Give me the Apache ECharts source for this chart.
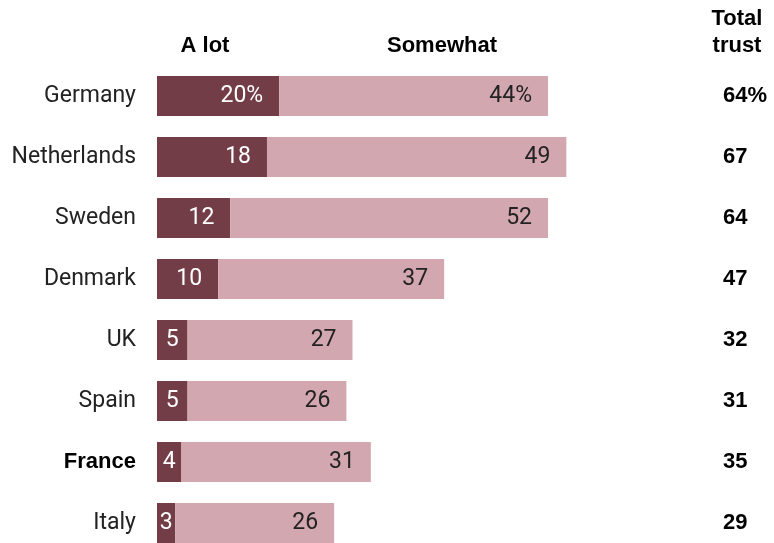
<!DOCTYPE html>
<html>
<head>
<meta charset="utf-8">
<script src="https://cdn.jsdelivr.net/npm/echarts@6/dist/echarts.min.js"></script>
<style>
  html, body { margin: 0; padding: 0; background: #ffffff; }
  #chart { width: 774px; height: 543px; }
</style>
</head>
<body>
<div id="chart"></div>
<script>
// Trust in news media, by country (% who trust "a lot" / "somewhat")
const categories = ['Germany', 'Netherlands', 'Sweden', 'Denmark', 'UK', 'Spain', 'France', 'Italy'];
const aLot = [20, 18, 12, 10, 5, 5, 4, 3];
const somewhat = [44, 49, 52, 37, 27, 26, 31, 26];
const totalTrust = [64, 67, 64, 47, 32, 31, 35, 29];
const highlighted = 'France';

const DARK = '#733d48';
const LIGHT = '#d3a7af';
const TEXT = '#222222';
const BODY_FONT = 'Roboto, "Liberation Sans", sans-serif';
const HEAD_FONT = '"Liberation Sans", Arial, sans-serif';

// grid geometry: rows sit on the ticks, first row at the top edge, last at the bottom edge
const GRID_LEFT = 157;
const GRID_WIDTH = 556;
const X_MAX = 91;
const PX_PER_UNIT = GRID_WIDTH / X_MAX;

const pct = (v, i) => (i === 0 ? v + '%' : String(v));

// narrow segments get a centred label, wider ones sit near the right end
function segmentData(values) {
  return values.map(function (v) {
    const narrow = v * PX_PER_UNIT < 40;
    return {
      value: v,
      label: narrow ? { position: 'inside' } : { position: 'insideRight', distance: 16 }
    };
  });
}

const chart = echarts.init(document.getElementById('chart'), null, { renderer: 'canvas' });

const rowAxis = {
  type: 'category',
  inverse: true,
  boundaryGap: false,
  data: categories,
  axisLine: { show: false },
  axisTick: { show: false },
  splitLine: { show: false }
};

chart.setOption({
  animation: false,
  backgroundColor: '#ffffff',
  grid: { left: GRID_LEFT, top: 96, width: GRID_WIDTH, bottom: 20, containLabel: false },
  xAxis: {
    type: 'value',
    min: 0,
    max: X_MAX,
    show: false
  },
  yAxis: [
    Object.assign({}, rowAxis, {
      axisLabel: {
        margin: 21,
        fontFamily: BODY_FONT,
        fontSize: 23,
        color: TEXT,
        formatter: function (name) {
          return name === highlighted ? '{b|' + name + '}' : name;
        },
        rich: {
          b: { fontFamily: HEAD_FONT, fontWeight: 'bold', fontSize: 22, color: '#000000' }
        }
      }
    }),
    Object.assign({}, rowAxis, {
      position: 'right',
      axisLabel: {
        margin: 10,
        align: 'left',
        fontFamily: HEAD_FONT,
        fontWeight: 'bold',
        fontSize: 22,
        color: '#000000',
        formatter: function (name, index) {
          return pct(totalTrust[index], index);
        }
      }
    })
  ],
  series: [
    {
      name: 'A lot',
      type: 'bar',
      stack: 'trust',
      barWidth: 40,
      itemStyle: { color: DARK },
      label: {
        show: true,
        color: '#ffffff',
        fontFamily: BODY_FONT,
        fontSize: 23,
        formatter: function (p) { return pct(p.value, p.dataIndex); }
      },
      data: segmentData(aLot)
    },
    {
      name: 'Somewhat',
      type: 'bar',
      stack: 'trust',
      barWidth: 40,
      itemStyle: { color: LIGHT },
      label: {
        show: true,
        color: TEXT,
        fontFamily: BODY_FONT,
        fontSize: 23,
        formatter: function (p) { return pct(p.value, p.dataIndex); }
      },
      data: segmentData(somewhat)
    }
  ],
  graphic: [
    {
      type: 'text',
      x: 205, y: 46,
      style: {
        text: 'A lot',
        fill: '#000000', font: 'bold 22px ' + HEAD_FONT,
        align: 'center', verticalAlign: 'middle'
      }
    },
    {
      type: 'text',
      x: 442, y: 46,
      style: {
        text: 'Somewhat',
        fill: '#000000', font: 'bold 22px ' + HEAD_FONT,
        align: 'center', verticalAlign: 'middle'
      }
    },
    {
      type: 'text',
      x: 737, y: 32,
      style: {
        text: 'Total\ntrust',
        fill: '#000000', font: 'bold 22px ' + HEAD_FONT,
        lineHeight: 27,
        align: 'center', verticalAlign: 'middle'
      }
    }
  ]
});
</script>
</body>
</html>
